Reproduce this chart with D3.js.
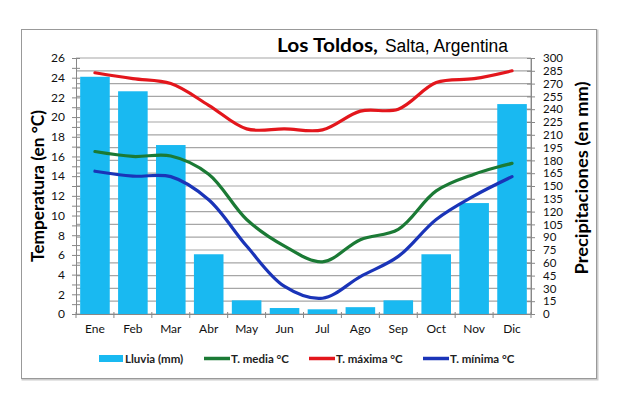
<!DOCTYPE html>
<html><head><meta charset="utf-8">
<script src="https://cdn.jsdelivr.net/npm/d3@7"></script>
<style>body{margin:0;background:#fff}svg{display:block}text{font-family:Lato,"Open Sans",sans-serif}</style>
</head><body><svg id="c" width="620" height="395"></svg>
<script>
const months = ["Ene","Feb","Mar","Abr","May","Jun","Jul","Ago","Sep","Oct","Nov","Dic"];
const lluvia = [278,261,198,70,16,7,5.5,8,16,70,130,246];
const tMedia = [16.5,16.0,16.05,14.2,9.6,6.9,5.3,7.55,8.6,12.5,14.2,15.3];
const tMaxima = [24.5,23.9,23.4,21.2,18.8,18.8,18.7,20.6,20.8,23.5,23.9,24.7];
const tMinima = [14.5,14.0,13.95,11.6,6.9,2.8,1.6,3.8,5.85,9.6,12.0,13.95];
const tempTicks = d3.range(0,27,2);
const rainTicks = d3.range(0,301,15);

const svg = d3.select("#c");
const L=76,R=531,T=58,B=314;
// outer border
svg.append("rect").attr("x",22.5).attr("y",30.5).attr("width",575).attr("height",349).attr("fill","none").attr("stroke","#ccc").attr("stroke-width",2);
svg.append("rect").attr("x",21.5).attr("y",29.5).attr("width",575).attr("height",349).attr("fill","#fff").attr("stroke","#999");

const x = d3.scaleBand().domain(months).range([L,R]).paddingInner(0.22).paddingOuter(0.11);
const xb = d3.scaleBand().domain(months).range([L,R]);
const yT = d3.scaleLinear().domain([0,26]).range([B,T]);
const yR = d3.scaleLinear().domain([0,300]).range([B,T]);

// gridlines
svg.append("g").selectAll("line").data(rainTicks).join("line")
  .attr("x1",L).attr("x2",R).attr("y1",d=>yR(d)).attr("y2",d=>yR(d))
  .attr("stroke","#a6a6a6").attr("stroke-width",1.2);
svg.append("line").attr("x1",R).attr("x2",R).attr("y1",T).attr("y2",B).attr("stroke","#999");

// bars
svg.append("g").selectAll("rect").data(lluvia).join("rect")
  .attr("x",(d,i)=>x(months[i])).attr("width",x.bandwidth())
  .attr("y",d=>yR(d)).attr("height",d=>B-yR(d)).attr("fill","#19b9f1");

// lines
const line = arr => d3.line().x((d,i)=>xb(months[i])+xb.bandwidth()/2).y(d=>yT(d)).curve(d3.curveCatmullRom.alpha(0.5))(arr);
[[tMaxima,"#e3161c"],[tMedia,"#1b7a35"],[tMinima,"#1a34b8"]].forEach(([a,c])=>{
  svg.append("path").attr("d",line(a)).attr("fill","none").attr("stroke",c).attr("stroke-width",3.2).attr("stroke-linecap","round");
});

// left axis
const gl = svg.append("g").attr("transform",`translate(${L},0)`)
  .call(d3.axisLeft(yT).tickValues(d3.range(0,27,1)).tickSize(4).tickFormat(d=>d%2===0?d:""));
gl.select(".domain").attr("stroke","#888");
gl.selectAll(".tick line").attr("stroke","#888").attr("x2",4).attr("x1",-4);
gl.selectAll("text").attr("x",-11).attr("font-size",12).attr("fill","#111");

// right axis
const gr = svg.append("g").attr("transform",`translate(${R},0)`)
  .call(d3.axisRight(yR).tickValues(rainTicks).tickSize(4));
gr.select(".domain").attr("stroke","#888");
gr.selectAll(".tick line").attr("stroke","#888").attr("x1",-4).attr("x2",4);
gr.selectAll("text").attr("x",12).attr("font-size",11.5).attr("fill","#111");

// bottom axis
const gb = svg.append("g").attr("transform",`translate(0,${B})`).call(d3.axisBottom(xb).tickSize(0));
gb.select(".domain").attr("stroke","#888");
gb.selectAll("text").attr("dy",16).attr("font-size",12).attr("fill","#111");
svg.append("g").selectAll("line").data(d3.range(0,13)).join("line")
  .attr("x1",i=>L+i*xb.step()).attr("x2",i=>L+i*xb.step()).attr("y1",B-2).attr("y2",B+4).attr("stroke","#888");

// titles
const t = svg.append("text").attr("x",277).attr("y",52).attr("font-size",18).attr("fill","#000");
t.append("tspan").attr("font-weight","bold").attr("textLength",101).attr("lengthAdjust","spacingAndGlyphs").text("Los Toldos,");
t.append("tspan").attr("x",385).attr("font-family","Liberation Sans, Arial, sans-serif").attr("textLength",123).attr("lengthAdjust","spacingAndGlyphs").text("Salta, Argentina");
svg.append("text").attr("transform","translate(44,186) rotate(-90)").attr("text-anchor","middle")
  .attr("font-size",16.5).attr("font-weight","bold").attr("fill","#000")
  .attr("textLength",152).attr("lengthAdjust","spacingAndGlyphs").text("Temperatura (en °C)");
svg.append("text").attr("transform","translate(588,178) rotate(-90)").attr("text-anchor","middle")
  .attr("font-size",16.5).attr("font-weight","bold").attr("fill","#000")
  .attr("textLength",193).attr("lengthAdjust","spacingAndGlyphs").text("Precipitaciones  (en mm)");

// legend
const lg = svg.append("g").attr("font-size",11.5).attr("font-weight","bold").attr("fill","#222");
lg.append("rect").attr("x",99).attr("y",355).attr("width",24).attr("height",7).attr("fill","#19b9f1");
lg.append("text").attr("x",125).attr("y",363).text("Lluvia (mm)");
[[204,"#1b7a35","T. media °C"],[309,"#e3161c","T. máxima °C"],[423,"#1a34b8","T. mínima °C"]].forEach(([lx,c,s])=>{
  lg.append("line").attr("x1",lx).attr("x2",lx+26).attr("y1",358.5).attr("y2",358.5).attr("stroke",c).attr("stroke-width",3.5);
  lg.append("text").attr("x",lx+27).attr("y",363).text(s);
});
</script></body></html>
